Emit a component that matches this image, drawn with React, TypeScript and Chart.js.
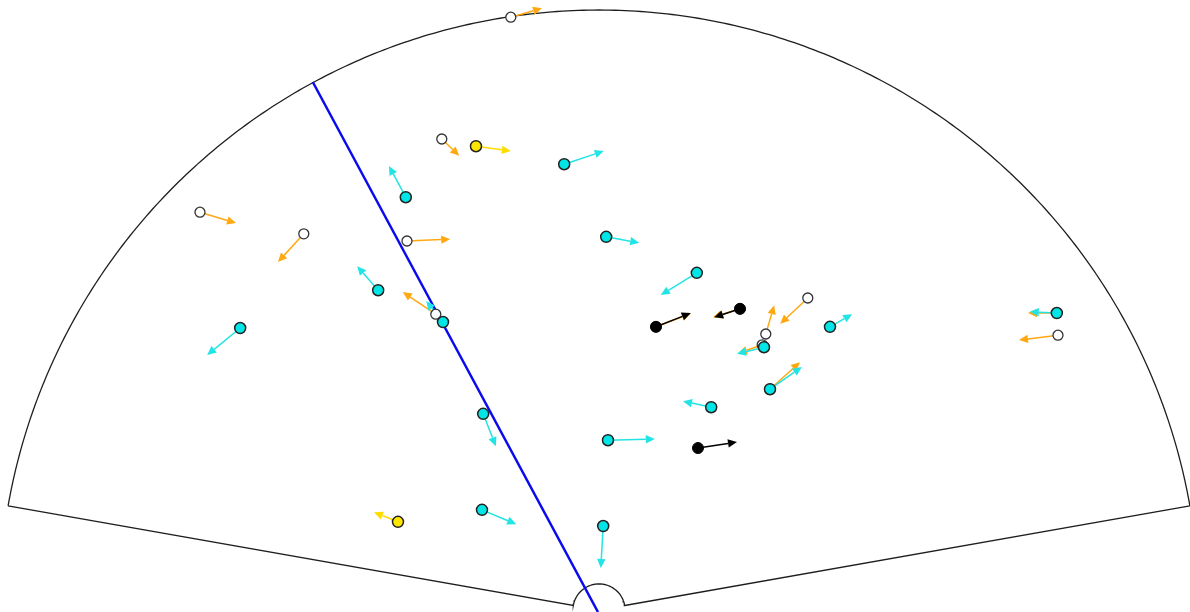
import { useEffect, useRef } from "react";
import Chart from "chart.js/auto";

// Field geometry (data units, apex of the fan at the origin)
const FIELD_RADIUS = 100;
const INNER_RADIUS = 4.35;
const EDGE_ANGLE_DEG = 10;
const X_RANGE = [-99.83, 98.5];
const Y_RANGE = [-0.33, 101.67];

// Players: [x, y, arrowToX, arrowToY]
const cyanPlayers = [
  [-32.2, 68.8, -35.0, 74.0],
  [-5.8, 74.3, 0.8, 76.5],
  [1.2, 62.2, 6.7, 61.2],
  [16.3, 56.2, 10.3, 52.5],
  [-36.8, 53.3, -40.3, 57.3],
  [-59.8, 47.0, -65.3, 42.5],
  [-26.0, 48.0, -28.8, 51.5],
  [38.5, 47.2, 42.2, 49.3],
  [27.5, 43.8, 23.0, 42.7],
  [28.5, 36.8, 33.8, 40.5],
  [18.7, 33.8, 14.0, 34.8],
  [-19.3, 32.7, -17.2, 27.3],
  [1.5, 28.3, 9.3, 28.5],
  [-19.5, 16.7, -13.8, 14.3],
  [0.7, 14.0, 0.3, 7.0],
  [76.3, 49.5, 71.8, 49.7],
];

const whitePlayers = [
  [-14.7, 98.8, -9.5, 100.3],
  [-26.2, 78.5, -23.3, 75.7],
  [-66.5, 66.3, -60.5, 64.5],
  [-49.2, 62.7, -53.5, 58.0],
  [-32.0, 61.5, -24.8, 61.8],
  [-27.2, 49.3, -32.7, 53.0],
  [34.8, 52.0, 30.2, 47.7],
  [27.8, 46.0, 29.2, 50.8],
  [76.5, 45.8, 70.0, 45.0],
  [27.2, 44.2, 23.2, 42.8],
  [28.5, 36.8, 33.5, 41.3],
  [9.5, 47.2, 15.3, 49.4],
  [23.5, 50.2, 19.0, 48.8],
  [76.3, 49.5, 71.5, 49.5],
];

const yellowPlayers = [
  [-20.5, 77.3, -14.7, 76.5],
  [-33.5, 14.7, -37.5, 16.3],
];

const blackPlayers = [
  [9.5, 47.2, 15.3, 49.5],
  [23.5, 50.2, 19.2, 48.8],
  [16.5, 27.0, 23.0, 28.0],
];

const dividerLine = [
  [-47.7, 88.0],
  [-0.17, -0.33],
];

const toRad = (d: number) => (d * Math.PI) / 180;

function fanOutline() {
  const pts: { x: number; y: number }[] = [];
  for (let a = 180 - EDGE_ANGLE_DEG; a >= EDGE_ANGLE_DEG - 1e-9; a -= 0.5) {
    pts.push({ x: FIELD_RADIUS * Math.cos(toRad(a)), y: FIELD_RADIUS * Math.sin(toRad(a)) });
  }
  for (let a = EDGE_ANGLE_DEG; a <= 180 - EDGE_ANGLE_DEG + 1e-9; a += 4) {
    pts.push({ x: INNER_RADIUS * Math.cos(toRad(a)), y: INNER_RADIUS * Math.sin(toRad(a)) });
  }
  pts.push({ ...pts[0] });
  return pts;
}

const arrowGroups = [
  { data: whitePlayers, color: "#ffa812" },
  { data: blackPlayers, color: "#000000" },
  { data: yellowPlayers, color: "#ffdc00" },
  { data: cyanPlayers, color: "#22e4e4" },
];

const arrowPlugin = {
  id: "arrows",
  afterDatasetDraw(chart: any, args: any) {
    if (args.index !== 1) return;
    const ctx = chart.ctx as CanvasRenderingContext2D;
    const xs = chart.scales.x;
    const ys = chart.scales.y;
    ctx.save();
    for (const g of arrowGroups) {
      ctx.strokeStyle = g.color;
      ctx.fillStyle = g.color;
      ctx.lineWidth = 1.5;
      for (const [x, y, tx, ty] of g.data) {
        const x0 = xs.getPixelForValue(x);
        const y0 = ys.getPixelForValue(y);
        const x1 = xs.getPixelForValue(tx);
        const y1 = ys.getPixelForValue(ty);
        const ang = Math.atan2(y1 - y0, x1 - x0);
        const headLen = 9;
        const headW = 4.2;
        const bx = x1 - headLen * Math.cos(ang);
        const by = y1 - headLen * Math.sin(ang);
        ctx.beginPath();
        ctx.moveTo(x0, y0);
        ctx.lineTo(bx, by);
        ctx.stroke();
        ctx.beginPath();
        ctx.moveTo(x1, y1);
        ctx.lineTo(bx + headW * Math.sin(ang), by - headW * Math.cos(ang));
        ctx.lineTo(bx - headW * Math.sin(ang), by + headW * Math.cos(ang));
        ctx.closePath();
        ctx.fill();
      }
    }
    ctx.restore();
  },
};

const pts = (arr: number[][]) => arr.map((p) => ({ x: p[0], y: p[1] }));

export default function App() {
  const ref = useRef<HTMLCanvasElement | null>(null);
  useEffect(() => {
    if (!ref.current) return;
    const chart = new Chart(ref.current, {
      type: "scatter",
      data: {
        datasets: [
          {
            type: "line",
            data: fanOutline(),
            borderColor: "#1e1e1e",
            borderWidth: 1.3,
            pointRadius: 0,
            fill: false,
            tension: 0,
            order: 10,
            clip: false,
          } as any,
          {
            type: "line",
            data: pts(dividerLine),
            borderColor: "#0a0aee",
            borderWidth: 2.5,
            pointRadius: 0,
            fill: false,
            order: 9,
            clip: false,
          } as any,
          {
            data: pts(whitePlayers),
            backgroundColor: "#ffffff",
            borderColor: "#333333",
            borderWidth: 1.3,
            pointRadius: 5,
            order: 4,
            clip: false,
          },
          {
            data: pts(blackPlayers),
            backgroundColor: "#000000",
            borderColor: "#000000",
            borderWidth: 1,
            pointRadius: 5.5,
            order: 3,
            clip: false,
          },
          {
            data: pts(yellowPlayers),
            backgroundColor: "#ffe600",
            borderColor: "#222222",
            borderWidth: 1.5,
            pointRadius: 5.5,
            order: 2,
            clip: false,
          },
          {
            data: pts(cyanPlayers),
            backgroundColor: "#00e5e5",
            borderColor: "#222222",
            borderWidth: 1.5,
            pointRadius: 5.5,
            order: 1,
            clip: false,
          },
        ],
      },
      options: {
        animation: false,
        responsive: true,
        maintainAspectRatio: false,
        layout: { padding: 0, autoPadding: false },
        plugins: { legend: { display: false }, tooltip: { enabled: false } },
        events: [],
        scales: {
          x: { type: "linear", min: X_RANGE[0], max: X_RANGE[1], display: false },
          y: { type: "linear", min: Y_RANGE[0], max: Y_RANGE[1], display: false },
        },
      },
      plugins: [arrowPlugin],
    });
    return () => chart.destroy();
  }, []);
  return (
    <div style={{ position: "fixed", left: 0, top: 0, width: 1190, height: 612, background: "#fff" }}>
      <canvas ref={ref} />
    </div>
  );
}
